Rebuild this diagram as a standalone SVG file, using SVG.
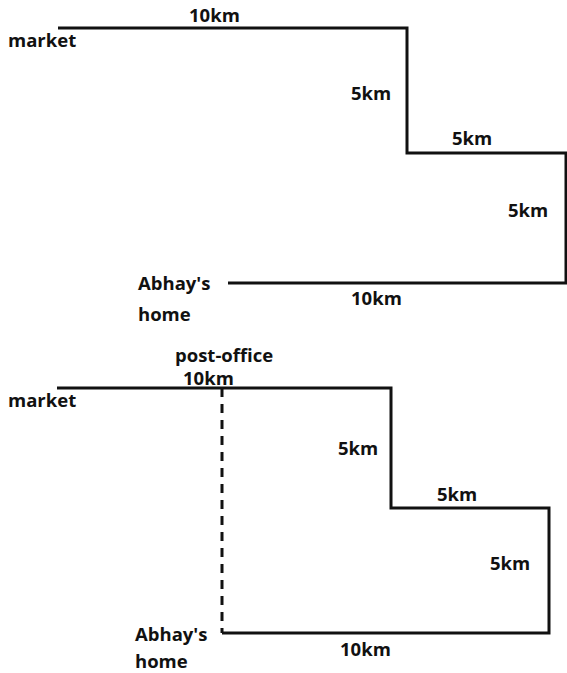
<svg xmlns="http://www.w3.org/2000/svg" width="567" height="673" viewBox="0 0 567 673">
<style>
.ln{fill:none;stroke:#111;stroke-width:3;stroke-linejoin:miter;stroke-linecap:butt}
.ds{fill:none;stroke:#111;stroke-width:3;stroke-dasharray:9,7}
text{font-family:"Open Sans","Liberation Sans",sans-serif;font-weight:bold;font-size:18.5px;fill:#111}
</style>
<rect width="567" height="673" fill="#fff"/>
<g id="connectors">
<path class="ln" d="M58,28 H407 V153 H566 V283 H228"/>
<path class="ln" d="M57,388 H391 V508 H549 V633 H222"/>
<path class="ds" d="M222,388 V633"/>
</g>
<g id="top-market"><text x="8" y="47">market</text></g>
<g id="top-10km"><text x="189" y="22">10km</text></g>
<g id="top-5km-a"><text x="351" y="100">5km</text></g>
<g id="top-5km-b"><text x="452" y="145">5km</text></g>
<g id="top-5km-c"><text x="508" y="217">5km</text></g>
<g id="top-home"><text x="138" y="290">Abhay's</text><text x="138" y="321">home</text></g>
<g id="top-10km-b"><text x="351" y="305">10km</text></g>
<g id="bot-postoffice"><text x="175" y="362">post-office</text></g>
<g id="bot-10km"><text x="183" y="385">10km</text></g>
<g id="bot-market"><text x="8" y="407">market</text></g>
<g id="bot-5km-a"><text x="338" y="455">5km</text></g>
<g id="bot-5km-b"><text x="437" y="501">5km</text></g>
<g id="bot-5km-c"><text x="490" y="570">5km</text></g>
<g id="bot-home"><text x="135" y="641">Abhay's</text><text x="135" y="668">home</text></g>
<g id="bot-10km-b"><text x="340" y="656">10km</text></g>
</svg>
